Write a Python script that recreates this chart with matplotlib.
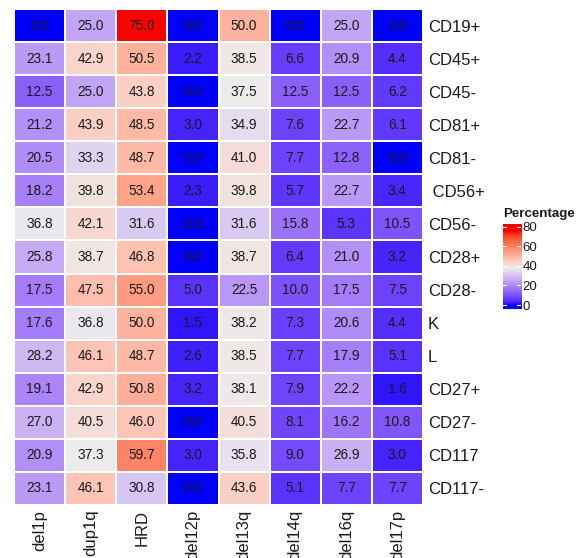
import numpy as np
import matplotlib
matplotlib.use("Agg")
import matplotlib.pyplot as plt
from matplotlib.colors import ListedColormap, Normalize

plt.rcParams['font.family'] = ['Liberation Sans', 'DejaVu Sans']

columns = ["del1p", "dup1q", "HRD", "del12p", "del13q", "del14q", "del16q", "del17p"]
rows = ["CD19+", "CD45+", "CD45-", "CD81+", "CD81-", " CD56+", "CD56-", "CD28+",
        "CD28-", "K", "L", "CD27+", "CD27-", "CD117", "CD117-"]

cd19p = [0.0, 25.0, 75.0, 0.0, 50.0, 0.0, 25.0, 0.0]
cd45p = [23.1, 42.9, 50.5, 2.2, 38.5, 6.6, 20.9, 4.4]
cd45m = [12.5, 25.0, 43.8, 0.0, 37.5, 12.5, 12.5, 6.2]
cd81p = [21.2, 43.9, 48.5, 3.0, 34.9, 7.6, 22.7, 6.1]
cd81m = [20.5, 33.3, 48.7, 0.0, 41.0, 7.7, 12.8, 0.0]
cd56p = [18.2, 39.8, 53.4, 2.3, 39.8, 5.7, 22.7, 3.4]
cd56m = [36.8, 42.1, 31.6, 0.0, 31.6, 15.8, 5.3, 10.5]
cd28p = [25.8, 38.7, 46.8, 0.0, 38.7, 6.4, 21.0, 3.2]
cd28m = [17.5, 47.5, 55.0, 5.0, 22.5, 10.0, 17.5, 7.5]
kappa = [17.6, 36.8, 50.0, 1.5, 38.2, 7.3, 20.6, 4.4]
lam = [28.2, 46.1, 48.7, 2.6, 38.5, 7.7, 17.9, 5.1]
cd27p = [19.1, 42.9, 50.8, 3.2, 38.1, 7.9, 22.2, 1.6]
cd27m = [27.0, 40.5, 46.0, 0.0, 40.5, 8.1, 16.2, 10.8]
cd117 = [20.9, 37.3, 59.7, 3.0, 35.8, 9.0, 26.9, 3.0]
cd117m = [23.1, 46.1, 30.8, 0.0, 43.6, 5.1, 7.7, 7.7]

data = np.array([cd19p, cd45p, cd45m, cd81p, cd81m, cd56p, cd56m, cd28p,
                 cd28m, kappa, lam, cd27p, cd27m, cd117, cd117m])

# ---- Lab-interpolated diverging colormap (blue - light gray - red) ----
def srgb_to_lin(c):
    c = np.asarray(c, float)
    return np.where(c <= 0.04045, c / 12.92, ((c + 0.055) / 1.055) ** 2.4)

def lin_to_srgb(c):
    c = np.clip(c, 0, 1)
    return np.where(c <= 0.0031308, 12.92 * c, 1.055 * c ** (1 / 2.4) - 0.055)

M = np.array([[0.4124, 0.3576, 0.1805], [0.2126, 0.7152, 0.0722], [0.0193, 0.1192, 0.9505]])
Minv = np.linalg.inv(M)
WP = np.array([0.95047, 1.0, 1.08883])

def rgb_to_lab(rgb):
    xyz = M @ srgb_to_lin(rgb) / WP
    f = np.where(xyz > 0.008856, np.cbrt(xyz), 7.787 * xyz + 16 / 116)
    return np.array([116 * f[1] - 16, 500 * (f[0] - f[1]), 200 * (f[1] - f[2])])

def lab_to_rgb(lab):
    L, a, b = lab
    fy = (L + 16) / 116
    fx = fy + a / 500
    fz = fy - b / 200
    f = np.array([fx, fy, fz])
    xyz = np.where(f ** 3 > 0.008856, f ** 3, (f - 16 / 116) / 7.787) * WP
    return lin_to_srgb(Minv @ xyz)

low = rgb_to_lab([0, 0, 1])
mid = rgb_to_lab([0.925, 0.925, 0.925])
high = rgb_to_lab([1, 0, 0])
vmin, vmid, vmax = 0.0, 37.5, 75.0
vals = np.linspace(vmin, vmax, 512)
cols = []
for v in vals:
    if v <= vmid:
        t = (v - vmin) / (vmid - vmin)
        lab = low + (mid - low) * t
    else:
        t = (v - vmid) / (vmax - vmid)
        lab = mid + (high - mid) * t
    cols.append(lab_to_rgb(lab))
cmap = ListedColormap(np.array(cols))
norm = Normalize(vmin=vmin, vmax=vmax)

W, H = 579, 558
fig = plt.figure(figsize=(W / 100, H / 100), dpi=100)

ax = fig.add_axes([14 / W, 1 - 505 / H, 409 / W, 496 / H])
nr, nc = data.shape
ax.pcolormesh(np.arange(nc + 1), np.arange(nr + 1), data, cmap=cmap, norm=norm,
              edgecolor="white", linewidth=1.2)
ax.set_xlim(0, nc)
ax.set_ylim(nr, 0)
for i in range(nr):
    for j in range(nc):
        ax.text(j + 0.5, i + 0.5, f"{data[i, j]:.1f}", ha="center", va="center",
                fontsize=9.8, color="#1a1a1a")
for s in ax.spines.values():
    s.set_visible(False)
ax.set_xticks(np.arange(nc) + 0.5)
ax.set_xticklabels(columns, rotation=90, fontsize=12, color="#1a1a1a")
ax.set_yticks(np.arange(nr) + 0.5)
ax.set_yticklabels(rows, fontsize=12, color="#1a1a1a")
ax.yaxis.tick_right()
ax.tick_params(axis="both", length=0)
ax.tick_params(axis="y", pad=3.5)
ax.tick_params(axis="x", pad=3.5)

# ---- colorbar legend ----
cb_lo, cb_hi = -4.0, 82.5
cax = fig.add_axes([502.7 / W, 1 - 309 / H, 18 / W, 84.7 / H])
grad = np.linspace(cb_lo, cb_hi, 300).reshape(-1, 1)
cax.imshow(grad, extent=[0, 1, cb_lo, cb_hi], origin="lower", aspect="auto",
           cmap=cmap, norm=norm)
cax.set_xlim(0, 1)
cax.set_ylim(cb_lo, cb_hi)
cb_ticks = [0, 20, 40, 60, 80]
for t in cb_ticks:
    cax.plot([0, 0.2], [t, t], color="white", lw=0.8)
    cax.plot([0.8, 1], [t, t], color="white", lw=0.8)
cax.set_xticks([])
cax.yaxis.tick_right()
cax.set_yticks(cb_ticks)
cax.set_yticklabels([str(t) for t in cb_ticks], fontsize=9.5, color="#1a1a1a")
cax.tick_params(axis="y", length=0, pad=1.5)
for s in cax.spines.values():
    s.set_visible(False)
fig.text(502.7 / W, 1 - 217.5 / H, "Percentage", fontsize=9.6, fontweight="bold",
         ha="left", va="baseline", color="#1a1a1a")

fig.savefig("out.png", dpi=100)
